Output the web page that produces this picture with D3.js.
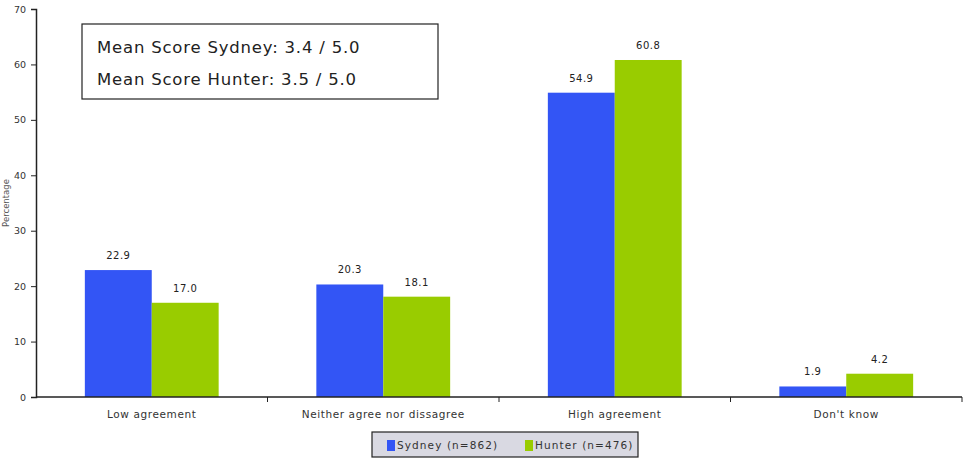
<!DOCTYPE html>
<html>
<head>
<meta charset="utf-8">
<script src="https://cdn.jsdelivr.net/npm/d3@7"></script>
<style>
  html, body { margin: 0; padding: 0; background: #fff; }
  svg { display: block; }
  text { font-family: "DejaVu Sans", sans-serif; }
</style>
</head>
<body>
<svg id="chart" width="967" height="462"></svg>
<script>
// Agreement categories and share of respondents (%) per region
const categories = ["Low agreement", "Neither agree nor dissagree", "High agreement", "Don't know"];
const sydney = [22.9, 20.3, 54.9, 1.9];
const hunter = [17.0, 18.1, 60.8, 4.2];
const seriesNames = ["Sydney (n=862)", "Hunter (n=476)"];
const seriesColors = ["#3355f5", "#99cc00"];
const yTicks = [0, 10, 20, 30, 40, 50, 60, 70];
const meanLines = ["Mean Score Sydney: 3.4 / 5.0", "Mean Score Hunter: 3.5 / 5.0"];

const svg = d3.select("#chart");
const plotLeft = 36, plotRight = 962, plotTop = 9, plotBottom = 397;

const x = d3.scaleBand().domain(categories).range([plotLeft, plotRight]).paddingInner(0).paddingOuter(0);
const inner = d3.scaleBand().domain([0, 1]).range([0, x.bandwidth()]).paddingInner(0).paddingOuter(0.73);
const y = d3.scaleLinear().domain([0, 70]).range([plotBottom, plotTop]);

// Bars with value labels
const series = [sydney, hunter];
series.forEach((vals, si) => {
  svg.append("g").selectAll("rect").data(vals).join("rect")
    .attr("x", (d, i) => x(categories[i]) + inner(si))
    .attr("y", d => y(d))
    .attr("width", inner.bandwidth())
    .attr("height", d => y(0) - y(d))
    .attr("fill", seriesColors[si]);
  svg.append("g").selectAll("text").data(vals).join("text")
    .attr("x", (d, i) => x(categories[i]) + inner(si) + inner.bandwidth() / 2)
    .attr("y", d => y(d) - 11)
    .attr("text-anchor", "middle")
    .attr("font-size", 10)
    .attr("letter-spacing", 0.5)
    .attr("fill", "#222")
    .text(d => d.toFixed(1));
});

// Y axis
const yAxis = d3.axisLeft(y).tickValues(yTicks).tickSize(5).tickPadding(5);
const gy = svg.append("g").attr("transform", `translate(${plotLeft},0)`).call(yAxis);
gy.select(".domain").attr("stroke", "#222").attr("stroke-width", 1.5);
gy.selectAll(".tick line").attr("stroke", "#222");
gy.selectAll(".tick text").attr("font-size", 9.5).attr("fill", "#333").attr("font-family", "DejaVu Sans, sans-serif");

// X axis with separators between categories
const gx = svg.append("g").attr("transform", `translate(0,${plotBottom})`);
gx.append("line").attr("x1", plotLeft).attr("x2", plotRight).attr("stroke", "#222").attr("stroke-width", 1.5);
const bounds = categories.map(c => x(c) + x.bandwidth());
gx.selectAll("line.sep").data(bounds).join("line").attr("class", "sep")
  .attr("x1", d => d).attr("x2", d => d).attr("y1", 0).attr("y2", 5)
  .attr("stroke", "#222");
gx.selectAll("text").data(categories).join("text")
  .attr("x", d => x(d) + x.bandwidth() / 2)
  .attr("y", 21)
  .attr("text-anchor", "middle")
  .attr("font-size", 10.5)
  .attr("letter-spacing", 0.6)
  .attr("fill", "#333")
  .text(d => d);

// Y axis title, squeezed into the left margin
svg.append("text")
  .attr("transform", "translate(9,203) rotate(-90)")
  .attr("text-anchor", "middle")
  .attr("font-size", 8.5)
  .attr("fill", "#555")
  .text("Percentage");

// Mean score box
svg.append("rect").attr("x", 82).attr("y", 24).attr("width", 356).attr("height", 75)
  .attr("fill", "#fff").attr("stroke", "#222").attr("stroke-width", 1.2);
svg.append("g").selectAll("text").data(meanLines).join("text")
  .attr("x", 97)
  .attr("y", (d, i) => 53 + i * 32)
  .attr("font-size", 16.5)
  .attr("letter-spacing", 0.8)
  .attr("fill", "#222")
  .text(d => d);

// Legend
const lg = svg.append("g");
lg.append("rect").attr("x", 372).attr("y", 432).attr("width", 266).attr("height", 25)
  .attr("fill", "#d9d9e2").attr("stroke", "#222").attr("stroke-width", 1.2);
const legendX = [387, 525];
seriesNames.forEach((n, i) => {
  lg.append("rect").attr("x", legendX[i]).attr("y", 440).attr("width", 8).attr("height", 11)
    .attr("fill", seriesColors[i]);
  lg.append("text").attr("x", legendX[i] + 10).attr("y", 449)
    .attr("font-size", 10.5).attr("letter-spacing", 1.1).attr("fill", "#333").text(n);
});
</script>
</body>
</html>
